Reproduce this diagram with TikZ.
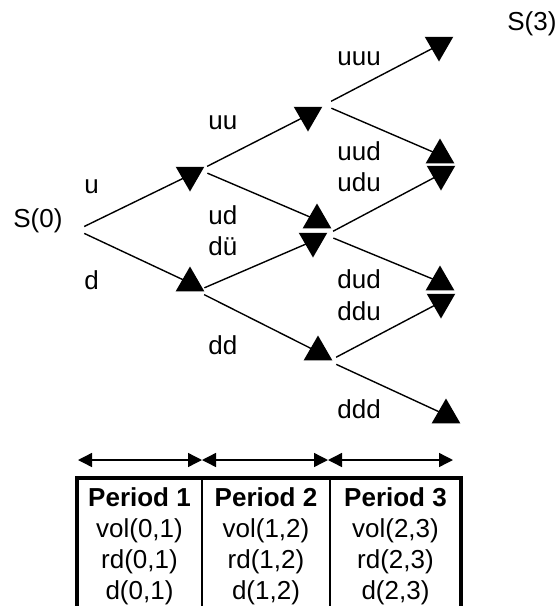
\documentclass[tikz,border=0pt]{standalone}
\usepackage{fontspec}
\setmainfont{Liberation Sans}
\usetikzlibrary{shapes.geometric,arrows.meta}

\tikzset{
  upmark/.style={regular polygon, regular polygon sides=3, fill=black, minimum size=16.5pt, inner sep=0pt, outer sep=0pt},
  downmark/.style={upmark, shape border rotate=180},
  branch/.style={line width=0.7pt, shorten <=4pt},
  lbl/.style={font=\fontsize{13}{15.5}\selectfont, inner sep=0pt, anchor=base west},
  cell/.style={font=\fontsize{13}{15.5}\selectfont, inner sep=0pt, anchor=base},
  span/.style={line width=0.7pt, {Triangle[length=7pt,width=7pt]}-{Triangle[length=7pt,width=7pt]}},
}

\begin{document}
\begin{tikzpicture}[x=0.5pt, y=-0.5pt]
  \useasboundingbox (0,0) rectangle (558,606);
  \clip (0,0) rectangle (558,606);

  % ==================== tree nodes ====================
  \coordinate (j0) at (77,230);
  \node[downmark] (n-u) at (190,175) {};
  \node[upmark] (n-d) at (190,283) {};
  \node[downmark] (n-uu) at (308,115) {};
  \node[upmark] (n-ud) at (317,220) {};
  \node[downmark] (n-du) at (313,241) {};
  \node[upmark] (n-dd) at (318,352) {};
  \node[downmark] (n-uuu) at (439,45) {};
  \node[upmark] (n-uud) at (440,155) {};
  \node[downmark] (n-udu) at (441,174) {};
  \node[upmark] (n-dud) at (440,282) {};
  \node[downmark] (n-ddu) at (441,302) {};
  \node[upmark] (n-ddd) at (446,415) {};

  % branch points to the right of the marks
  \coordinate (j-u) at (200,170);
  \coordinate (j-d) at (197,291);
  \coordinate (j-uu) at (324,105);
  \coordinate (j-ud) at (326,235);
  \coordinate (j-dd) at (329,361);

  % ==================== branches ====================
  \draw[branch] (j0) -- (n-u.center);
  \draw[branch] (j0) -- (n-d.center);
  \draw[branch] (j-u) -- (n-uu.center);
  \draw[branch] (j-u) -- (n-ud.center);
  \draw[branch] (j-d) -- (n-du.center);
  \draw[branch] (j-d) -- (n-dd.center);
  \draw[branch] (j-uu) -- (n-uuu.center);
  \draw[branch] (j-uu) -- (n-uud.center);
  \draw[branch] (j-ud) -- (n-udu.center);
  \draw[branch] (j-ud) -- (n-dud.center);
  \draw[branch] (j-dd) -- (n-ddu.center);
  \draw[branch] (j-dd) -- (n-ddd.center);

  % ==================== labels ====================
  \node[lbl] (s0) at (13,227) {S(0)};
  \node[lbl] (s3) at (507,30) {S(3)};
  \node[lbl] (l-u) at (84,193) {u};
  \node[lbl] (l-d) at (84,289) {d};
  \node[lbl] (l-uu) at (208,129) {uu};
  \node[lbl] (l-ud) at (208,224) {ud};
  \node[lbl] (l-du) at (208,255) {dü};
  \node[lbl] (l-dd) at (208,354) {dd};
  \node[lbl] (l-uuu) at (337,65) {uuu};
  \node[lbl] (l-uud) at (337,160) {uud};
  \node[lbl] (l-udu) at (337,191) {udu};
  \node[lbl] (l-dud) at (337,288) {dud};
  \node[lbl] (l-ddu) at (337,320) {ddu};
  \node[lbl] (l-ddd) at (337,418) {ddd};

  % ==================== periods ====================
  \coordinate (a0) at (78,460);
  \coordinate (a1) at (202,460);
  \coordinate (a2) at (328,460);
  \coordinate (a3) at (453,460);
  \draw[span] (a0) -- (a1);
  \draw[span] (a1) -- (a2);
  \draw[span] (a2) -- (a3);

  % table, bottom edge runs off the page
  \draw[line width=2pt] (77,640) -- (77,478) -- (461,478) -- (461,640);
  \draw[line width=1.2pt] (202,478) -- (202,640);
  \draw[line width=1.2pt] (330,478) -- (330,640);
  \foreach \i/\a/\cx in {1/0/139.5, 2/1/266, 3/2/395.5}{
    \node[cell] (per\i) at (\cx,506) {\bfseries Period \i};
    \node[cell] (vol\i) at (\cx,537) {vol(\a,\i)};
    \node[cell] (rd\i) at (\cx,568) {rd(\a,\i)};
    \node[cell] (d\i) at (\cx,599) {d(\a,\i)};
  }
\end{tikzpicture}
\end{document}
